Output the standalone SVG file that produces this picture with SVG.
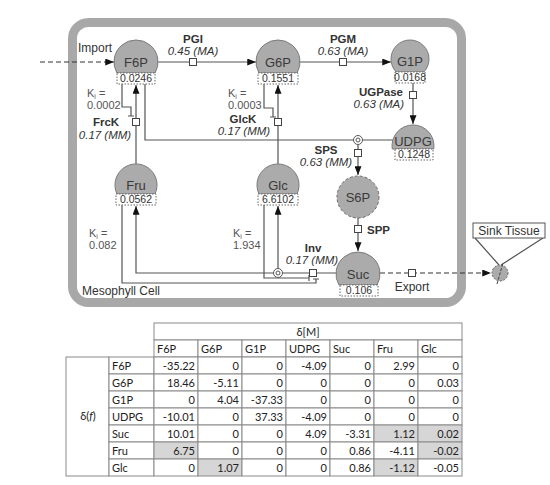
<svg xmlns="http://www.w3.org/2000/svg" width="550" height="485" viewBox="0 0 550 485">
<defs>
<marker id="ah" viewBox="0 0 10 8" refX="10" refY="4" markerWidth="9" markerHeight="7" orient="auto" markerUnits="userSpaceOnUse"><path d="M0,0 L10,4 L0,8 z" fill="#111"/></marker>
<style>
.ln{fill:none;stroke:#555;stroke-width:1.2}
.dl{fill:none;stroke:#333;stroke-width:1.2;stroke-dasharray:5,3}
.sq{fill:#fff;stroke:#444;stroke-width:1}
.dome{fill:#ababab;stroke:#7a7a7a;stroke-width:1}
.vb{fill:#fff;stroke:#666;stroke-width:1;stroke-dasharray:1.5,1.5}
.nl{font-family:"Liberation Sans",Arial,sans-serif;font-size:13px;fill:#3a3a3a;text-anchor:middle}
.nv{font-family:"Liberation Sans",Arial,sans-serif;font-size:10.5px;fill:#333;text-anchor:middle}
.t{font-family:"Liberation Sans",Arial,sans-serif;font-size:12px;fill:#333}
.b{font-family:"Liberation Sans",Arial,sans-serif;font-size:11.5px;font-weight:bold;fill:#333}
.i{font-family:"Liberation Sans",Arial,sans-serif;font-size:11.5px;font-style:italic;fill:#333}
.k{font-family:"Liberation Sans",Arial,sans-serif;font-size:11px;fill:#555}
.m{text-anchor:middle}
.e{text-anchor:end}
.dc{fill:#fff;stroke:#555;stroke-width:1}
.c{fill:#fff;stroke:#8a8a8a;stroke-width:1}
.s{fill:#d6d6d6;stroke:#8a8a8a;stroke-width:1}
.tt{font-family:Lato,"Liberation Sans",sans-serif;font-size:11px;fill:#222}
.tr{font-family:Lato,"Liberation Sans",sans-serif;font-size:11px;fill:#222;text-anchor:end}
</style>
</defs>
<rect x="72.5" y="22.5" width="389" height="280" rx="16" fill="#fff" stroke="#a8a8a8" stroke-width="9"/>
<text class="t" x="82" y="295">Mesophyll Cell</text>

<g id="connectors">
<path class="dl" d="M40,62 H114" marker-end="url(#ah)"/>
<path class="ln" d="M158,62 H256" marker-end="url(#ah)"/>
<path class="ln" d="M300,62 H391" marker-end="url(#ah)"/>
<path class="ln" d="M413,83 V124" marker-end="url(#ah)"/>
<path class="ln" d="M136,164 V85" marker-end="url(#ah)"/>
<path class="ln" d="M278,164 V85" marker-end="url(#ah)"/>
<path class="ln" d="M122,84 V107 H131 V116 M128,116 H134"/>
<path class="ln" d="M264,84 V108 H273 V117 M270,117 H276"/>
<path class="ln" d="M145,84 V140 H393"/>
<path class="ln" d="M358,144.5 V175" marker-end="url(#ah)"/>
<path class="ln" d="M358,218 V251" marker-end="url(#ah)"/>
<path class="ln" d="M336,273 H282.5"/>
<path class="ln" d="M273.5,273 H136 V206" marker-end="url(#ah)"/>
<path class="ln" d="M278,268.5 V206" marker-end="url(#ah)"/>
<path class="ln" d="M264,205 V278 H309 M309,275 V281"/>
<path class="ln" d="M122,205 V283 H316 V279 M313,279 H319"/>
<path class="dl" d="M380,273 H491" marker-end="url(#ah)"/>
<circle class="dc" cx="358" cy="140" r="4.5"/><circle class="dc" cx="358" cy="140" r="2"/>
<circle class="dc" cx="278" cy="273" r="4.5"/><circle class="dc" cx="278" cy="273" r="2"/>
<rect class="sq" x="189.5" y="58.5" width="7" height="7"/>
<rect class="sq" x="339.5" y="58.5" width="7" height="7"/>
<rect class="sq" x="409.5" y="91.5" width="7" height="7"/>
<rect class="sq" x="132.5" y="118.5" width="7" height="7"/>
<rect class="sq" x="274.5" y="118.5" width="7" height="7"/>
<rect class="sq" x="354.5" y="149.5" width="7" height="7"/>
<rect class="sq" x="354.5" y="225.5" width="7" height="7"/>
<rect class="sq" x="309.5" y="269.5" width="7" height="7"/>
<rect class="sq" x="408.5" y="269.5" width="7" height="7"/>
<path class="ln" d="M475,238 L499,265 M543,238 L501,265"/>
</g>

<g id="labels">
<text class="t" x="78" y="52">Import</text>
<text class="b m" x="193" y="42.5">PGI</text>
<text class="i m" x="193" y="55">0.45 (MA)</text>
<text class="b m" x="343" y="42.5">PGM</text>
<text class="i m" x="343" y="55">0.63 (MA)</text>
<text class="b e" x="403" y="95.5">UGPase</text>
<text class="i e" x="404" y="108">0.63 (MA)</text>
<text class="k" x="87" y="97">K<tspan font-size="7" dy="2">i</tspan><tspan dy="-2"> =</tspan></text>
<text class="k" x="87" y="109">0.0002</text>
<text class="b m" x="106" y="126">FrcK</text>
<text class="i m" x="105" y="138.5">0.17 (MM)</text>
<text class="k" x="228" y="97">K<tspan font-size="7" dy="2">i</tspan><tspan dy="-2"> =</tspan></text>
<text class="k" x="228" y="109">0.0003</text>
<text class="b m" x="243" y="122.5">GlcK</text>
<text class="i m" x="244" y="135">0.17 (MM)</text>
<text class="b m" x="326" y="153.5">SPS</text>
<text class="i m" x="326" y="166">0.63 (MM)</text>
<text class="b" x="367" y="234">SPP</text>
<text class="k" x="89" y="237">K<tspan font-size="7" dy="2">i</tspan><tspan dy="-2"> =</tspan></text>
<text class="k" x="89" y="249">0.082</text>
<text class="k" x="233" y="237">K<tspan font-size="7" dy="2">i</tspan><tspan dy="-2"> =</tspan></text>
<text class="k" x="233" y="249">1.934</text>
<text class="b m" x="313" y="251.5">Inv</text>
<text class="i m" x="312" y="264">0.17 (MM)</text>
<text class="t m" x="412" y="291">Export</text>
</g>

<g id="F6P"><path class="dome" d="M116.95,73 A22,22 0 1 1 155.05,73 Z"/><rect class="vb" x="117" y="73" width="38" height="11"/><text class="nl" x="136" y="67">F6P</text><text class="nv" x="136" y="82">0.0246</text></g>
<g id="G6P"><path class="dome" d="M258.95,73 A22,22 0 1 1 297.05,73 Z"/><rect class="vb" x="258" y="73" width="40" height="11"/><text class="nl" x="278" y="67">G6P</text><text class="nv" x="278" y="82">0.1551</text></g>
<g id="G1P"><path class="dome" d="M396.14,72 A19,19 0 1 1 423.86,72 Z"/><rect class="vb" x="395" y="72" width="30" height="11"/><text class="nl" x="410" y="66">G1P</text><text class="nv" x="410" y="81" font-size="9.5">0.0168</text></g>
<g id="UDPG"><path class="dome" d="M392.22,149 A21,21 0 1 1 433.78,149 Z"/><rect class="vb" x="395" y="149" width="38" height="11"/><text class="nl" x="413" y="146" font-size="14">UDPG</text><text class="nv" x="414" y="158">0.1248</text></g>
<g id="S6P"><circle cx="358" cy="197" r="21" fill="#ababab" stroke="#6a6a6a" stroke-width="1" stroke-dasharray="3,2"/><text class="nl" x="358" y="202">S6P</text></g>
<g id="Suc"><path class="dome" d="M338.95,285 A22,22 0 1 1 377.05,285 Z"/><rect class="vb" x="340" y="285" width="38" height="11"/><text class="nl" x="358" y="279">Suc</text><text class="nv" x="359" y="294">0.106</text></g>
<g id="Glc"><path class="dome" d="M259.03,194 A21,21 0 1 1 296.97,194 Z"/><rect class="vb" x="258" y="194" width="40" height="11"/><text class="nl" x="278" y="190">Glc</text><text class="nv" x="278" y="203">6.6102</text></g>
<g id="Fru"><path class="dome" d="M117.03,194 A21,21 0 1 1 154.97,194 Z"/><rect class="vb" x="116" y="194" width="40" height="11"/><text class="nl" x="136" y="190">Fru</text><text class="nv" x="136" y="203">0.0562</text></g>
<g id="Sink"><rect x="473" y="223" width="72" height="15" fill="#fff" stroke="#555" stroke-width="1"/><text class="t m" x="509" y="235">Sink Tissue</text><circle cx="500" cy="273" r="8" fill="#ababab" stroke="#666" stroke-width="1" stroke-dasharray="2,1.5"/><path d="M497,284 L503,263" stroke="#444" stroke-width="1" stroke-dasharray="3,1.5"/></g>

<g id="table">
<rect class="c" x="154" y="323" width="308" height="17"/>
<text class="tt m" x="308" y="335.5">δ[M]</text>
<rect class="c" x="154" y="340" width="44" height="17"/><rect class="c" x="198" y="340" width="44" height="17"/><rect class="c" x="242" y="340" width="44" height="17"/><rect class="c" x="286" y="340" width="44" height="17"/><rect class="c" x="330" y="340" width="44" height="17"/><rect class="c" x="374" y="340" width="44" height="17"/><rect class="c" x="418" y="340" width="44" height="17"/>
<text class="tt" x="157" y="352.5">F6P</text><text class="tt" x="201" y="352.5">G6P</text><text class="tt" x="245" y="352.5">G1P</text><text class="tt" x="289" y="352.5">UDPG</text><text class="tt" x="333" y="352.5">Suc</text><text class="tt" x="377" y="352.5">Fru</text><text class="tt" x="421" y="352.5">Glc</text>
<rect class="c" x="66" y="357" width="43" height="119"/>
<text class="tt m" x="88" y="420">δ(<tspan font-style="italic">f</tspan>)</text>
<rect class="c" x="109" y="357" width="45" height="17"/><rect class="c" x="109" y="374" width="45" height="17"/><rect class="c" x="109" y="391" width="45" height="17"/><rect class="c" x="109" y="408" width="45" height="17"/><rect class="c" x="109" y="425" width="45" height="17"/><rect class="c" x="109" y="442" width="45" height="17"/><rect class="c" x="109" y="459" width="45" height="17"/>
<text class="tt" x="112" y="369.5">F6P</text><text class="tt" x="112" y="386.5">G6P</text><text class="tt" x="112" y="403.5">G1P</text><text class="tt" x="112" y="420.5">UDPG</text><text class="tt" x="112" y="437.5">Suc</text><text class="tt" x="112" y="454.5">Fru</text><text class="tt" x="112" y="471.5">Glc</text>
<g>
<rect class="c" x="154" y="357" width="44" height="17"/><rect class="c" x="198" y="357" width="44" height="17"/><rect class="c" x="242" y="357" width="44" height="17"/><rect class="c" x="286" y="357" width="44" height="17"/><rect class="c" x="330" y="357" width="44" height="17"/><rect class="c" x="374" y="357" width="44" height="17"/><rect class="c" x="418" y="357" width="44" height="17"/>
<rect class="c" x="154" y="374" width="44" height="17"/><rect class="c" x="198" y="374" width="44" height="17"/><rect class="c" x="242" y="374" width="44" height="17"/><rect class="c" x="286" y="374" width="44" height="17"/><rect class="c" x="330" y="374" width="44" height="17"/><rect class="c" x="374" y="374" width="44" height="17"/><rect class="c" x="418" y="374" width="44" height="17"/>
<rect class="c" x="154" y="391" width="44" height="17"/><rect class="c" x="198" y="391" width="44" height="17"/><rect class="c" x="242" y="391" width="44" height="17"/><rect class="c" x="286" y="391" width="44" height="17"/><rect class="c" x="330" y="391" width="44" height="17"/><rect class="c" x="374" y="391" width="44" height="17"/><rect class="c" x="418" y="391" width="44" height="17"/>
<rect class="c" x="154" y="408" width="44" height="17"/><rect class="c" x="198" y="408" width="44" height="17"/><rect class="c" x="242" y="408" width="44" height="17"/><rect class="c" x="286" y="408" width="44" height="17"/><rect class="c" x="330" y="408" width="44" height="17"/><rect class="c" x="374" y="408" width="44" height="17"/><rect class="c" x="418" y="408" width="44" height="17"/>
<rect class="c" x="154" y="425" width="44" height="17"/><rect class="c" x="198" y="425" width="44" height="17"/><rect class="c" x="242" y="425" width="44" height="17"/><rect class="c" x="286" y="425" width="44" height="17"/><rect class="c" x="330" y="425" width="44" height="17"/><rect class="s" x="374" y="425" width="44" height="17"/><rect class="s" x="418" y="425" width="44" height="17"/>
<rect class="s" x="154" y="442" width="44" height="17"/><rect class="c" x="198" y="442" width="44" height="17"/><rect class="c" x="242" y="442" width="44" height="17"/><rect class="c" x="286" y="442" width="44" height="17"/><rect class="c" x="330" y="442" width="44" height="17"/><rect class="c" x="374" y="442" width="44" height="17"/><rect class="s" x="418" y="442" width="44" height="17"/>
<rect class="c" x="154" y="459" width="44" height="17"/><rect class="s" x="198" y="459" width="44" height="17"/><rect class="c" x="242" y="459" width="44" height="17"/><rect class="c" x="286" y="459" width="44" height="17"/><rect class="c" x="330" y="459" width="44" height="17"/><rect class="s" x="374" y="459" width="44" height="17"/><rect class="c" x="418" y="459" width="44" height="17"/>
</g>
<text class="tr" x="195" y="369.5">-35.22</text><text class="tr" x="239" y="369.5">0</text><text class="tr" x="283" y="369.5">0</text><text class="tr" x="327" y="369.5">-4.09</text><text class="tr" x="371" y="369.5">0</text><text class="tr" x="415" y="369.5">2.99</text><text class="tr" x="459" y="369.5">0</text>
<text class="tr" x="195" y="386.5">18.46</text><text class="tr" x="239" y="386.5">-5.11</text><text class="tr" x="283" y="386.5">0</text><text class="tr" x="327" y="386.5">0</text><text class="tr" x="371" y="386.5">0</text><text class="tr" x="415" y="386.5">0</text><text class="tr" x="459" y="386.5">0.03</text>
<text class="tr" x="195" y="403.5">0</text><text class="tr" x="239" y="403.5">4.04</text><text class="tr" x="283" y="403.5">-37.33</text><text class="tr" x="327" y="403.5">0</text><text class="tr" x="371" y="403.5">0</text><text class="tr" x="415" y="403.5">0</text><text class="tr" x="459" y="403.5">0</text>
<text class="tr" x="195" y="420.5">-10.01</text><text class="tr" x="239" y="420.5">0</text><text class="tr" x="283" y="420.5">37.33</text><text class="tr" x="327" y="420.5">-4.09</text><text class="tr" x="371" y="420.5">0</text><text class="tr" x="415" y="420.5">0</text><text class="tr" x="459" y="420.5">0</text>
<text class="tr" x="195" y="437.5">10.01</text><text class="tr" x="239" y="437.5">0</text><text class="tr" x="283" y="437.5">0</text><text class="tr" x="327" y="437.5">4.09</text><text class="tr" x="371" y="437.5">-3.31</text><text class="tr" x="415" y="437.5">1.12</text><text class="tr" x="459" y="437.5">0.02</text>
<text class="tr" x="195" y="454.5">6.75</text><text class="tr" x="239" y="454.5">0</text><text class="tr" x="283" y="454.5">0</text><text class="tr" x="327" y="454.5">0</text><text class="tr" x="371" y="454.5">0.86</text><text class="tr" x="415" y="454.5">-4.11</text><text class="tr" x="459" y="454.5">-0.02</text>
<text class="tr" x="195" y="471.5">0</text><text class="tr" x="239" y="471.5">1.07</text><text class="tr" x="283" y="471.5">0</text><text class="tr" x="327" y="471.5">0</text><text class="tr" x="371" y="471.5">0.86</text><text class="tr" x="415" y="471.5">-1.12</text><text class="tr" x="459" y="471.5">-0.05</text>
</g>
</svg>
